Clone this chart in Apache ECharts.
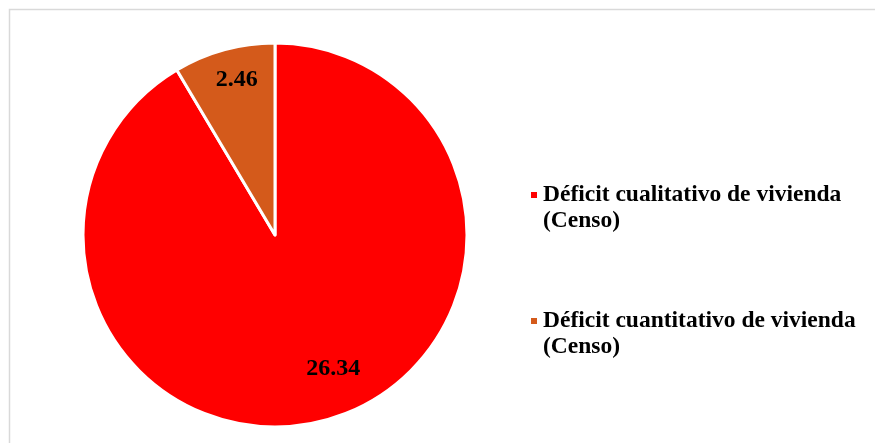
<!DOCTYPE html>
<html>
<head>
<meta charset="utf-8">
<script src="https://cdn.jsdelivr.net/npm/echarts@6/dist/echarts.min.js"></script>
<style>
  html, body { margin: 0; padding: 0; background: #fff; }
  #chart { width: 875px; height: 443px; }
</style>
</head>
<body>
<div id="chart"></div>
<script>
// datos del gráfico
const categorias = ['Déficit cualitativo de vivienda (Censo)', 'Déficit cuantitativo de vivienda (Censo)']
const valores = [26.34, 2.46]
const colores = ['#FF0000', '#D45A1B']

// desplazamiento de etiquetas (como en el original)
const desplazamientos = [[32, 38], [-12, -60]]

const chart = echarts.init(document.getElementById('chart'))
const fuente = '"Liberation Serif", "Times New Roman", serif'

const option = {
  backgroundColor: '#fff',
  animation: false,
  graphic: [{
    type: 'rect',
    shape: {x: 9.5, y: 9.5, width: 900, height: 460},
    style: {fill: 'none', stroke: '#d9d9d9', lineWidth: 1.5},
    silent: true
  }],
  legend: {
    orient: 'vertical',
    left: 529,
    top: 156,
    padding: 0,
    itemWidth: 8,
    itemHeight: 8,
    itemGap: 48,
    textGap: 8,
    icon: 'rect',
    textStyle: {
      fontFamily: fuente,
      fontSize: 23.5,
      fontWeight: 'bold',
      color: '#000',
      lineHeight: 26
    },
    // línea vacía arriba para que el marcador quede junto a la primera línea
    formatter: function (name) {
      return ' \n' + name.replace(' (', '\n(')
    },
    data: categorias
  },
  series: [{
    type: 'pie',
    center: [275, 235],
    radius: 192,
    startAngle: 90,
    clockwise: true,
    itemStyle: {borderColor: '#fff', borderWidth: 3},
    label: {
      show: true,
      position: 'inside',
      fontFamily: fuente,
      fontSize: 24,
      fontWeight: 'bold',
      color: '#000',
      formatter: function (p) { return p.value.toFixed(2) }
    },
    labelLayout: function (p) {
      const d = desplazamientos[p.dataIndex]
      return {dx: d[0], dy: d[1]}
    },
    labelLine: {show: false},
    data: categorias.map((c, i) => ({name: c, value: valores[i], itemStyle: {color: colores[i]}}))
  }]
}

chart.setOption(option)
</script>
</body>
</html>
